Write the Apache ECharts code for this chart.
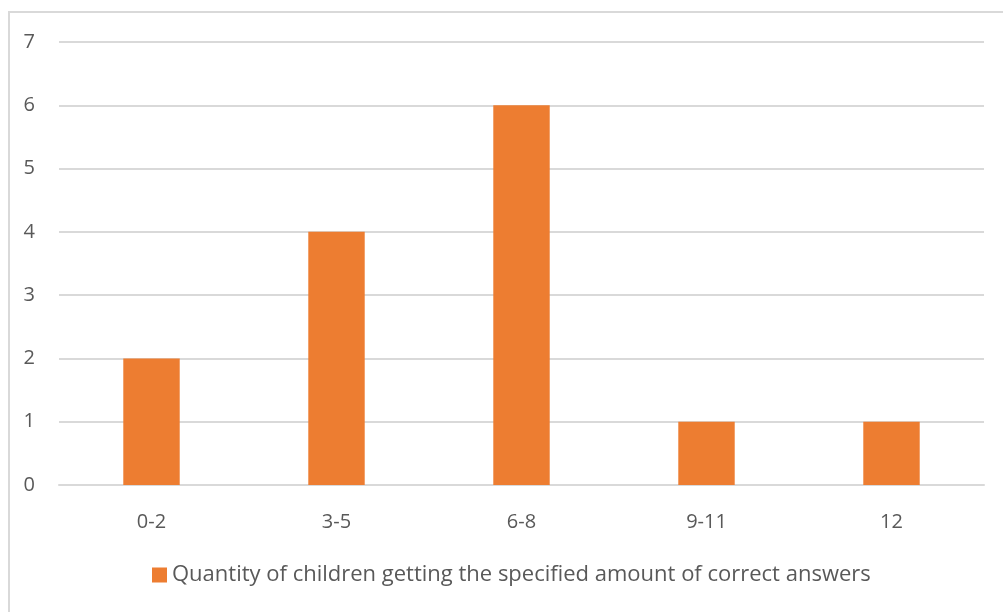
<!DOCTYPE html>
<html>
<head>
<meta charset="utf-8">
<script src="https://cdn.jsdelivr.net/npm/echarts@6/dist/echarts.min.js"></script>
<style>
  html, body { margin: 0; padding: 0; background: #fff; }
  #chart { width: 1003px; height: 612px; }
</style>
</head>
<body>
<div id="chart"></div>
<script>
// Score ranges (number of correct answers)
const categories = ['0-2', '3-5', '6-8', '9-11', '12'];
// Number of children in each range
const childCounts = [2, 4, 6, 1, 1];
const seriesName = 'Quantity of children getting the specified amount of correct answers';
const yTicks = { min: 0, max: 7, interval: 1 };

const chart = echarts.init(document.getElementById('chart'));
const textColor = '#595959';
const fontFamily = '"Open Sans", "Noto Sans", sans-serif';

chart.setOption({
  animation: false,
  backgroundColor: '#ffffff',
  graphic: [{
    type: 'rect',
    shape: { x: 9, y: 12, width: 1100, height: 700 },
    style: { fill: 'none', stroke: '#d9d9d9', lineWidth: 2 },
    silent: true
  }],
  grid: { left: 59, right: 19, top: 42, bottom: 127, containLabel: false },
  legend: {
    bottom: 21,
    left: 147,
    itemWidth: 15,
    itemHeight: 15,
    icon: 'rect',
    itemGap: 8,
    textStyle: { color: textColor, fontSize: 22, fontFamily: fontFamily },
    data: [seriesName]
  },
  xAxis: {
    type: 'category',
    data: categories,
    axisLine: { show: true, lineStyle: { color: '#d9d9d9', width: 2 } },
    axisTick: { show: false },
    axisLabel: { color: textColor, fontSize: 20, fontFamily: fontFamily, margin: 27 }
  },
  yAxis: {
    type: 'value',
    min: yTicks.min,
    max: yTicks.max,
    interval: yTicks.interval,
    axisLine: { show: false },
    axisTick: { show: false },
    splitLine: { lineStyle: { color: '#d9d9d9', width: 2 } },
    axisLabel: { color: textColor, fontSize: 20, fontFamily: fontFamily, margin: 24 }
  },
  series: [{
    name: seriesName,
    type: 'bar',
    data: childCounts,
    barWidth: '30.5%',
    itemStyle: { color: '#ed7d31' }
  }]
});
</script>
</body>
</html>
